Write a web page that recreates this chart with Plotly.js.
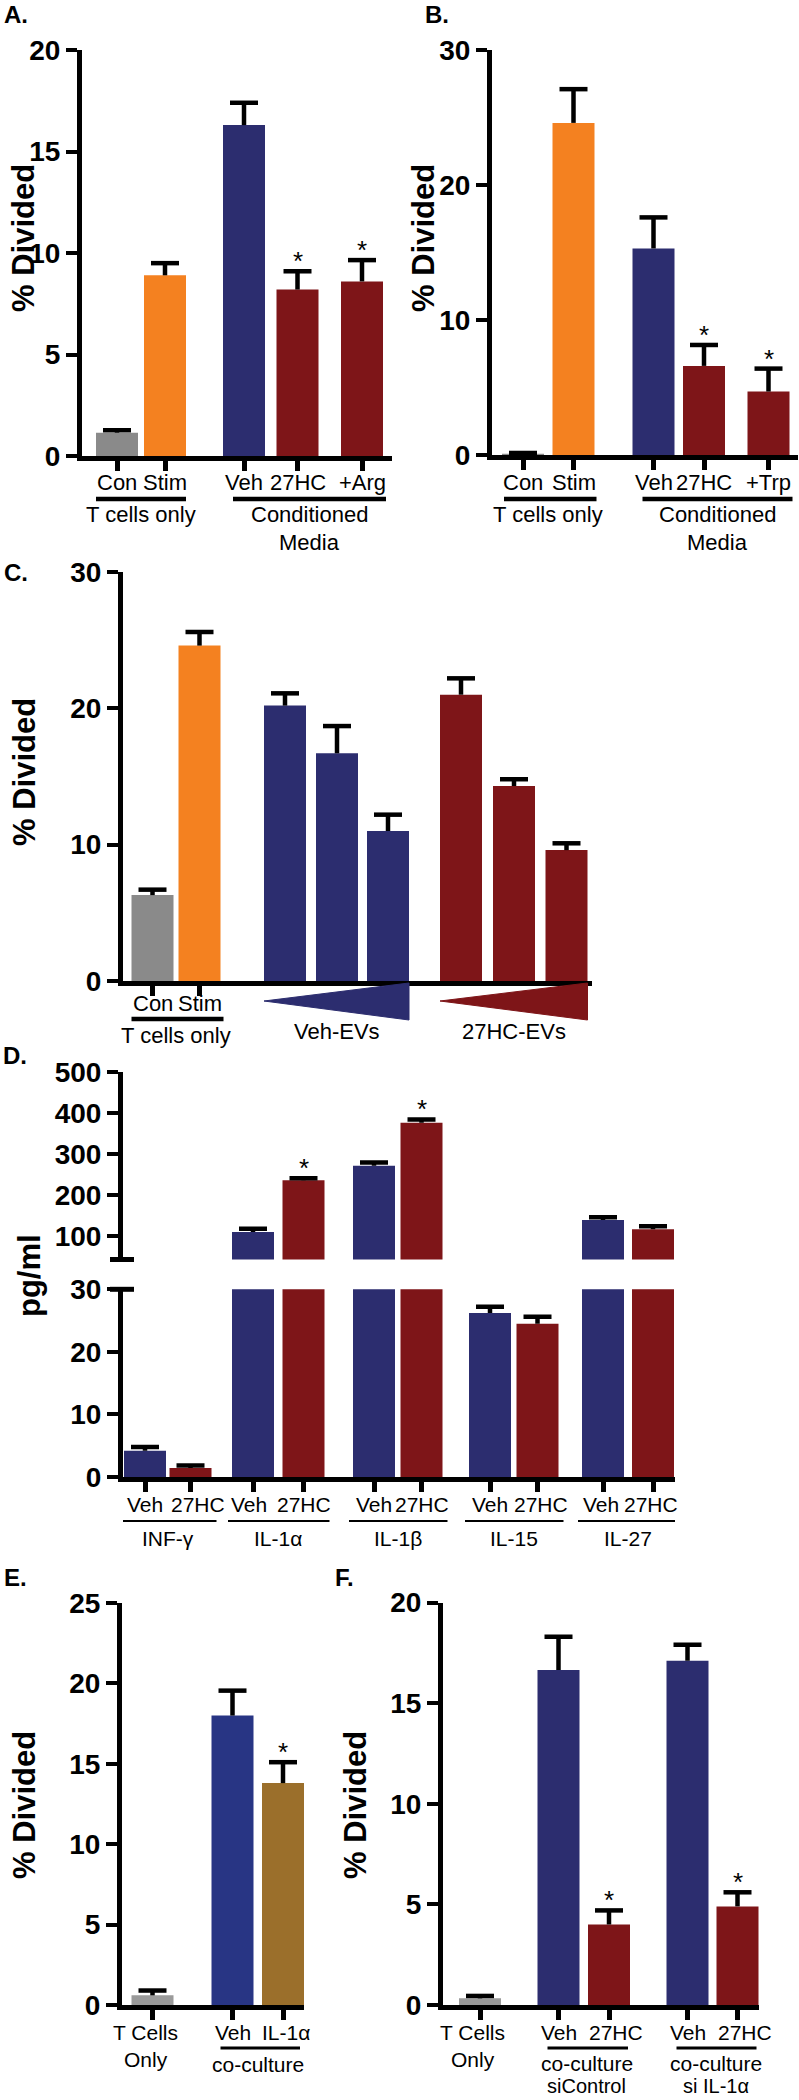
<!DOCTYPE html>
<html><head><meta charset="utf-8">
<script src="https://cdn.plot.ly/plotly-3.0.1.min.js"></script>
<style>body{margin:0;padding:0;background:#fff}#chart{width:799px;height:2100px}</style>
</head><body><div id="chart"></div>
<script>
// ================= DATA =================
// Panel A
const catA = ['Con', 'Stim', 'Veh', '27HC', '+Arg'];
const valA = [1.15, 8.9, 16.3, 8.2, 8.6];
const errA = [0.12, 0.6, 1.1, 0.9, 1.05];
const sigA = [false, false, false, true, true];
// Panel B
const catB = ['Con', 'Stim', 'Veh', '27HC', '+Trp'];
const valB = [0.1, 24.6, 15.3, 6.6, 4.7];
const errB = [0.05, 2.5, 2.3, 1.55, 1.7];
const sigB = [false, false, false, true, true];
// Panel C
const catC = ['Con', 'Stim', 'Veh-EVs low', 'Veh-EVs mid', 'Veh-EVs high', '27HC-EVs low', '27HC-EVs mid', '27HC-EVs high'];
const valC = [6.3, 24.6, 20.2, 16.7, 11.0, 21.0, 14.3, 9.6];
const errC = [0.4, 1.0, 0.9, 2.0, 1.2, 1.2, 0.5, 0.5];
// Panel D (pg/ml)
const cytD = ['INF-γ', 'IL-1α', 'IL-1β', 'IL-15', 'IL-27'];
const vehD = [4.2, 110, 271, 26.2, 139];
const vehErrD = [0.6, 8, 8, 1.0, 7];
const hcD = [1.45, 236, 376, 24.5, 117];
const hcErrD = [0.4, 5, 8, 1.1, 7];
const sigD = [false, true, true, false, false];
// Panel E
const catE = ['T Cells Only', 'Veh', 'IL-1α'];
const valE = [0.6, 18.0, 13.8];
const errE = [0.3, 1.55, 1.3];
const sigE = [false, false, true];
// Panel F
const catF = ['T Cells Only', 'Veh siControl', '27HC siControl', 'Veh si IL-1α', '27HC si IL-1α'];
const valF = [0.33, 16.65, 4.0, 17.1, 4.9];
const errF = [0.12, 1.65, 0.7, 0.8, 0.7];
const sigF = [false, false, true, false, true];

// ================= LAYOUT / STYLE =================
const W = 799, H = 2100;
const FONT = 'Liberation Sans, Arial, Helvetica, sans-serif';
const px = x => x / W;
const py = y => 1 - y / H;

const GRAY = '#8a8a8a', GRAY2 = '#9a9a9a', ORANGE = '#f48120', NAVY = '#2c2d6f', RED = '#7e1518', BLUE_E = '#283584', GOLD = '#9b6f2b';
const BW = 42;

// slot positions along each x axis (axis units)
const slotA = [35, 83, 162, 215.5, 280];
const slotB = [31, 81.5, 161.5, 212, 276.5];
const slotC = [29.5, 76.5, 162, 214, 265, 338, 391, 443.5];
const slotDveh = [22, 130, 251, 367, 480];
const slotDhc = [67.5, 180.5, 298.5, 414.5, 530];
const slotE = [30.5, 110.5, 161];
const slotF = [37, 115.5, 166, 244.5, 294.5];
// small label nudges (px) for panel D tick labels
const nudgeDveh = [0, -4, 0, 0, -2];
const nudgeDhc = [7, 0, 0, 3, -2];

const colA = [GRAY, ORANGE, NAVY, RED, RED];
const colB = [GRAY, ORANGE, NAVY, RED, RED];
const colC = [GRAY, ORANGE, NAVY, NAVY, NAVY, RED, RED, RED];
const colE = [GRAY2, BLUE_E, GOLD];
const colF = [GRAY2, NAVY, RED, NAVY, RED];

const traces = [];
const annotations = [];
const shapes = [];

function bars(x, y, colors, xa, ya) {
  traces.push({type: 'bar', x: x, y: y, width: BW, xaxis: xa, yaxis: ya,
    marker: {color: colors, line: {width: 0}}, hoverinfo: 'skip', showlegend: false});
}
function errs(x, y, e, xa, ya) {
  const sx = [], sy = [];
  x.forEach((p, i) => { sx.push(p, p, null); sy.push(y[i], y[i] + e[i], null); });
  traces.push({type: 'scatter', mode: 'lines', x: sx, y: sy, xaxis: xa, yaxis: ya,
    line: {color: '#000', width: 4.5}, hoverinfo: 'skip', showlegend: false});
  traces.push({type: 'scatter', mode: 'markers', x: x, y: y.map((v, i) => v + e[i]), xaxis: xa, yaxis: ya,
    marker: {symbol: 'line-ew', size: 20, color: '#000', line: {color: '#000', width: 4.5}},
    hoverinfo: 'skip', showlegend: false});
}
function stars(x, y, e, sig, xa, ya) {
  x.forEach((p, i) => {
    if (sig[i]) annotations.push({text: '*', x: p, y: y[i] + e[i], xref: xa, yref: ya,
      xanchor: 'center', yanchor: 'bottom', yshift: -7, showarrow: false,
      font: {family: FONT, size: 26, color: '#000'}});
  });
}
function lab(text, x, xref, y, size, extra) {
  annotations.push(Object.assign({text: text, x: x, xref: xref, y: py(y), yref: 'paper',
    xanchor: 'center', yanchor: 'middle', showarrow: false,
    font: {family: FONT, size: size, color: '#000'}}, extra || {}));
}
function uline(x0, x1, xref, y, w) {
  shapes.push({type: 'line', xref: xref, yref: 'paper', x0: x0, x1: x1, y0: py(y), y1: py(y),
    line: {color: '#000', width: w}});
}
function paperText(text, x, y, size, extra) {
  annotations.push(Object.assign({text: text, x: px(x), y: py(y), xref: 'paper', yref: 'paper',
    xanchor: 'center', yanchor: 'middle', showarrow: false,
    font: {family: FONT, size: size, color: '#000', weight: 'bold'}}, extra || {}));
}

const tickFont = {family: FONT, size: 28, color: '#000', weight: 'bold'};
function xax(x0, x1, anchor, tickvals) {
  return {domain: [px(x0), px(x1)], range: [0, x1 - x0], anchor: anchor, showline: true, linewidth: 5,
    linecolor: '#000', ticks: 'outside', ticklen: 10, tickwidth: 5, tickcolor: '#000',
    tickvals: tickvals, showticklabels: false, showgrid: false, zeroline: false, fixedrange: true};
}
function yax(top, bot, range, tickvals, anchor) {
  return {domain: [py(bot), py(top)], range: range, anchor: anchor, showline: true, linewidth: 5,
    linecolor: '#000', ticks: 'outside', ticklen: 11, tickwidth: 4, tickcolor: '#000',
    tickvals: tickvals, tickfont: tickFont, showgrid: false, zeroline: false, fixedrange: true};
}

// ---- Panel A ----
bars(slotA, valA, colA, 'x', 'y');
errs(slotA, valA, errA, 'x', 'y');
stars(slotA, valA, errA, sigA, 'x', 'y');
catA.forEach((c, i) => lab(c, slotA[i], 'x', 483, 22));
uline(slotA[0] - BW / 2, slotA[1] + BW / 2, 'x', 499, 4.5);
uline(slotA[2] - BW / 2 + 10, slotA[4] + BW / 2 + 3, 'x', 499, 4.5);
lab('T cells only', (slotA[0] + slotA[1]) / 2, 'x', 514, 22);
lab('Conditioned', (slotA[2] + slotA[4]) / 2 + 6, 'x', 514, 22);
lab('Media', (slotA[2] + slotA[4]) / 2 + 6, 'x', 542, 22);

// ---- Panel B ----
bars(slotB, valB, colB, 'x2', 'y2');
errs(slotB, valB, errB, 'x2', 'y2');
stars(slotB, valB, errB, sigB, 'x2', 'y2');
catB.forEach((c, i) => lab(c, slotB[i], 'x2', 483, 22));
uline(slotB[0] - BW / 2 + 2, slotB[1] + BW / 2 + 2, 'x2', 499, 4.5);
uline(slotB[2] - BW / 2 + 10, slotB[4] + BW / 2 + 3, 'x2', 499, 4.5);
lab('T cells only', (slotB[0] + slotB[1]) / 2, 'x2', 514, 22);
lab('Conditioned', (slotB[2] + slotB[4]) / 2 + 6, 'x2', 514, 22);
lab('Media', (slotB[2] + slotB[4]) / 2 + 6, 'x2', 542, 22);

// ---- Panel C ----
bars(slotC, valC, colC, 'x3', 'y3');
errs(slotC, valC, errC, 'x3', 'y3');
lab(catC[0], slotC[0], 'x3', 1003, 22);
lab(catC[1], slotC[1], 'x3', 1003, 22);
uline(slotC[0] - BW / 2, slotC[1] + BW / 2 + 3, 'x3', 1019, 4.5);
lab('T cells only', (slotC[0] + slotC[1]) / 2, 'x3', 1035, 22);
function tri(i0, i1, color, label) {
  const a = slotC[i0] - BW / 2, b = slotC[i1] + BW / 2;
  shapes.push({type: 'path', xref: 'x3', yref: 'paper',
    path: `M${a},${py(1001)} L${b},${py(983)} L${b},${py(1020)} Z`,
    fillcolor: color, line: {color: color, width: 1}});
  lab(label, (a + b) / 2, 'x3', 1031, 22);
}
tri(2, 4, NAVY, 'Veh-EVs');
tri(5, 7, RED, '27HC-EVs');

// ---- Panel D (broken axis) ----
['y4', 'y5'].forEach(ya => {
  bars(slotDveh, vehD, NAVY, 'x4', ya);
  bars(slotDhc, hcD, RED, 'x4', ya);
  errs(slotDveh, vehD, vehErrD, 'x4', ya);
  errs(slotDhc, hcD, hcErrD, 'x4', ya);
});
stars(slotDhc, hcD, hcErrD, sigD, 'x4', 'y4');
cytD.forEach((c, i) => {
  lab('Veh', slotDveh[i], 'x4', 1504, 21, {xshift: nudgeDveh[i]});
  lab('27HC', slotDhc[i], 'x4', 1504, 21, {xshift: nudgeDhc[i]});
  uline(slotDveh[i] - BW / 2 - 4, slotDhc[i] + BW / 2 + 5, 'x4', 1521, 2);
  lab(c, (slotDveh[i] + slotDhc[i]) / 2, 'x4', 1538, 21);
});
shapes.push({type: 'line', xref: 'paper', yref: 'paper', x0: px(110), x1: px(134), y0: py(1259.5), y1: py(1259.5), line: {color: '#000', width: 5}});
shapes.push({type: 'line', xref: 'paper', yref: 'paper', x0: px(110), x1: px(134), y0: py(1289.3), y1: py(1289.3), line: {color: '#000', width: 5}});

// ---- Panel E ----
bars(slotE, valE, colE, 'x6', 'y6');
errs(slotE, valE, errE, 'x6', 'y6');
stars(slotE, valE, errE, sigE, 'x6', 'y6');
lab('T Cells', slotE[0], 'x6', 2032, 21, {xshift: -7});
lab('Only', slotE[0], 'x6', 2059, 21, {xshift: -7});
lab('Veh', slotE[1], 'x6', 2032, 21);
lab('IL-1α', slotE[2], 'x6', 2032, 21, {xshift: 3});
uline(slotE[1] - BW / 2 + 9, slotE[2] + BW / 2 - 4, 'x6', 2048, 3);
lab('co-culture', (slotE[1] + slotE[2]) / 2, 'x6', 2064, 21);

// ---- Panel F ----
bars(slotF, valF, colF, 'x7', 'y7');
errs(slotF, valF, errF, 'x7', 'y7');
stars(slotF, valF, errF, sigF, 'x7', 'y7');
lab('T Cells', slotF[0], 'x7', 2032, 21, {xshift: -7});
lab('Only', slotF[0], 'x7', 2059, 21, {xshift: -7});
[[1, 2, 'siControl'], [3, 4, 'si IL-1α']].forEach(g => {
  lab('Veh', slotF[g[0]], 'x7', 2032, 21);
  lab('27HC', slotF[g[1]], 'x7', 2032, 21, {xshift: 7});
  uline(slotF[g[0]] - BW / 2 + 10, slotF[g[1]] + BW / 2 - 2, 'x7', 2048, 3);
  lab('co-culture', (slotF[g[0]] + slotF[g[1]]) / 2 + 3, 'x7', 2063, 21);
  lab(g[2], (slotF[g[0]] + slotF[g[1]]) / 2 + 3, 'x7', 2086, 20);
});

// ---- Panel letters & y titles ----
paperText('A.', 16, 14, 24);
paperText('B.', 437, 14, 24);
paperText('C.', 16, 572, 24);
paperText('D.', 15, 1055, 24);
paperText('E.', 15, 1577, 24);
paperText('F.', 344, 1577, 24);
paperText('% Divided', 24, 238, 31, {textangle: -90});
paperText('% Divided', 424, 238, 31, {textangle: -90});
paperText('% Divided', 24, 772, 31, {textangle: -90});
paperText('pg/ml', 29, 1275, 31, {textangle: -90});
paperText('% Divided', 24, 1805, 31, {textangle: -90});
paperText('% Divided', 355, 1805, 31, {textangle: -90});

const layout = {
  width: W, height: H, autosize: false,
  margin: {l: 0, r: 0, t: 0, b: 0},
  paper_bgcolor: '#fff', plot_bgcolor: 'rgba(0,0,0,0)',
  showlegend: false, hovermode: false, barmode: 'overlay',
  font: {family: FONT, color: '#000'},
  xaxis: xax(82, 392, 'y', slotA),
  yaxis: yax(50, 456, [0, 20], [0, 5, 10, 15, 20], 'x'),
  xaxis2: xax(492, 798, 'y2', slotB),
  yaxis2: yax(50, 455, [0, 30], [0, 10, 20, 30], 'x2'),
  xaxis3: xax(123, 592, 'y3', slotC.slice(0, 2)),
  yaxis3: yax(572, 981, [0, 30], [0, 10, 20, 30], 'x3'),
  xaxis4: xax(123, 675, 'y5', slotDveh.concat(slotDhc)),
  yaxis4: yax(1071.7, 1259.5, [43.2, 500], [100, 200, 300, 400, 500], 'x4'),
  yaxis5: yax(1289.3, 1477, [0, 30], [0, 10, 20, 30], 'x4'),
  xaxis6: xax(122, 304, 'y6', slotE),
  yaxis6: yax(1603, 2005, [0, 25], [0, 5, 10, 15, 20, 25], 'x6'),
  xaxis7: xax(443, 759, 'y7', slotF),
  yaxis7: yax(1602.5, 2005, [0, 20], [0, 5, 10, 15, 20], 'x7'),
  annotations: annotations,
  shapes: shapes
};
Plotly.newPlot('chart', traces, layout, {staticPlot: true, displayModeBar: false});
</script>
</body></html>
